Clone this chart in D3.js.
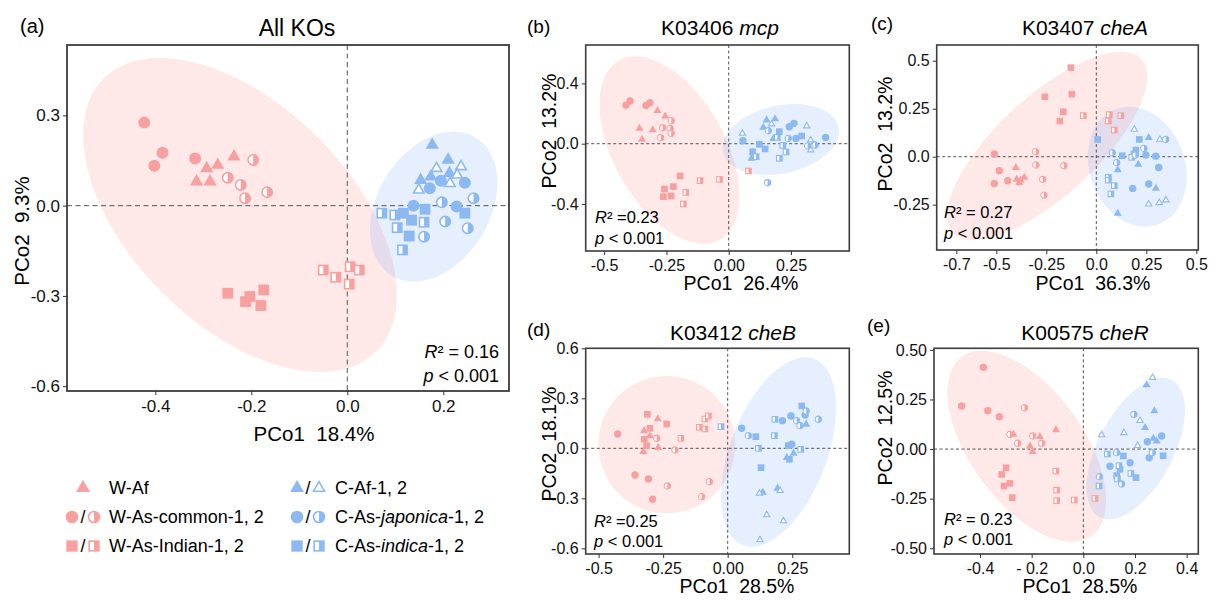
<!DOCTYPE html>
<html>
<head>
<meta charset="utf-8">
<script src="https://cdn.jsdelivr.net/npm/d3@7"></script>
<style>
body { margin: 0; background: #fff; }
svg { font-family: "Liberation Sans", Arial, sans-serif; }
</style>
</head>
<body>
<svg id="fig" width="1216" height="603"></svg>
<script>
// ---- data: [group, PCo1, PCo2] ----
const pointsA = [
	["Wc1", -0.423, 0.276], ["Wc1", -0.385, 0.176], ["Wc1", -0.402, 0.133], ["Wc1", -0.317, 0.157],
	["WAf", -0.293, 0.124], ["WAf", -0.27, 0.135], ["WAf", -0.236, 0.163], ["WAf", -0.314, 0.08], ["WAf", -0.286, 0.08],
	["Wc2", -0.196, 0.152], ["Wc2", -0.249, 0.093], ["Wc2", -0.222, 0.069], ["Wc2", -0.213, 0.025], ["Wc2", -0.167, 0.045],
	["Wi1", -0.249, -0.291], ["Wi1", -0.212, -0.319], ["Wi1", -0.203, -0.302], ["Wi1", -0.18, -0.332], ["Wi1", -0.174, -0.28],
	["Wi2", -0.05, -0.214], ["Wi2", -0.024, -0.238], ["Wi2", 0.006, -0.203], ["Wi2", 0.025, -0.214], ["Wi2", 0.004, -0.261],
	["CAf1", 0.177, 0.202], ["CAf1", 0.21, 0.152], ["CAf1", 0.213, 0.108], ["CAf1", 0.153, 0.085], ["CAf1", 0.174, 0.096],
	["CAf2", 0.186, 0.124], ["CAf2", 0.237, 0.13], ["CAf2", 0.229, 0.102], ["CAf2", 0.214, 0.074], ["CAf2", 0.149, 0.052],
	["Cj1", 0.172, 0.058], ["Cj1", 0.195, 0.083], ["Cj1", 0.245, 0.076], ["Cj1", 0.138, 0.0], ["Cj1", 0.228, -0.003],
	["Cj2", 0.197, 0.011], ["Cj2", 0.263, 0.025], ["Cj2", 0.204, -0.053], ["Cj2", 0.251, -0.075], ["Cj2", 0.16, -0.103],
	["Ci1", 0.117, -0.025], ["Ci1", 0.134, -0.048], ["Ci1", 0.129, -0.101], ["Ci1", 0.162, -0.012], ["Ci1", 0.245, -0.025],
	["Ci2", 0.072, -0.025], ["Ci2", 0.099, -0.031], ["Ci2", 0.104, -0.073], ["Ci2", 0.16, -0.055], ["Ci2", 0.115, -0.147]
];
const pointsB = [
	["Wc1", -0.412, 0.256], ["Wc1", -0.396, 0.283], ["Wc1", -0.332, 0.254], ["Wc1", -0.316, 0.272],
	["WAf", -0.286, 0.219], ["WAf", -0.255, 0.183], ["WAf", -0.358, 0.102], ["WAf", -0.305, 0.091], ["WAf", -0.348, 0.029],
	["Wc2", -0.231, 0.153], ["Wc2", -0.265, 0.106], ["Wc2", -0.235, 0.102], ["Wc2", -0.231, 0.069], ["Wc2", -0.273, 0.04],
	["Wi1", -0.195, -0.214], ["Wi1", -0.258, -0.301], ["Wi1", -0.222, -0.285], ["Wi1", -0.262, -0.351], ["Wi1", -0.231, -0.347],
	["Wi2", -0.115, -0.245], ["Wi2", -0.037, -0.237], ["Wi2", -0.172, -0.323], ["Wi2", -0.182, -0.4], ["Wi2", 0.079, -0.181],
	["CAf1", 0.152, 0.157], ["CAf1", 0.186, 0.164], ["CAf1", 0.139, 0.108], ["CAf1", 0.179, 0.033], ["CAf1", 0.092, -0.097],
	["CAf2", 0.055, 0.069], ["CAf2", 0.172, 0.13], ["CAf2", 0.313, 0.117], ["CAf2", 0.329, 0.024], ["CAf2", 0.329, -0.042],
	["Cj1", 0.057, 0.02], ["Cj1", 0.243, 0.113], ["Cj1", 0.262, 0.135], ["Cj1", 0.27, 0.035], ["Cj1", 0.389, 0.042],
	["Cj2", 0.159, 0.086], ["Cj2", 0.239, 0.035], ["Cj2", 0.317, -0.015], ["Cj2", 0.346, -0.009], ["Cj2", 0.156, -0.259],
	["Ci1", 0.123, -0.004], ["Ci1", 0.146, -0.035], ["Ci1", 0.203, 0.08], ["Ci1", 0.293, 0.051], ["Ci1", 0.096, -0.053],
	["Ci2", 0.11, -0.086], ["Ci2", 0.195, 0.042], ["Ci2", 0.217, -0.011], ["Ci2", 0.23, -0.055], ["Ci2", 0.203, -0.097]
];
const pointsC = [
	["Wi1", -0.127, 0.464], ["Wi1", -0.122, 0.326], ["Wi1", -0.257, 0.312], ["Wi1", -0.165, 0.234], ["Wi1", -0.182, 0.186],
	["Wi2", -0.065, 0.214], ["Wi2", 0.065, 0.219], ["Wi2", 0.123, 0.214], ["Wi2", 0.06, 0.186], ["Wi2", 0.09, 0.139],
	["Wc1", -0.51, 0.014], ["Wc1", -0.485, -0.073], ["Wc1", -0.443, -0.125], ["Wc1", -0.51, -0.139],
	["WAf", -0.402, -0.057], ["WAf", -0.398, -0.118], ["WAf", -0.36, -0.108], ["WAf", -0.385, -0.135], ["WAf", -0.378, -0.122],
	["Wc2", -0.303, 0.026], ["Wc2", -0.302, -0.043], ["Wc2", -0.268, -0.118], ["Wc2", -0.262, -0.2], ["Wc2", -0.162, -0.047],
	["Ci1", 0.007, 0.09], ["Ci1", 0.13, 0.005], ["Ci1", 0.215, 0.09], ["Ci1", 0.198, 0.035], ["Ci1", 0.188, 0.014],
	["Ci2", 0.06, -0.108], ["Ci2", 0.06, -0.122], ["Ci2", 0.09, -0.151], ["Ci2", 0.073, -0.194], ["Ci2", 0.177, -0.003],
	["CAf1", 0.262, 0.099], ["CAf1", 0.21, -0.04], ["CAf1", 0.107, -0.069], ["CAf1", 0.298, -0.165], ["CAf1", 0.107, -0.295],
	["CAf2", 0.19, 0.142], ["CAf2", 0.318, 0.09], ["CAf2", 0.262, -0.247], ["CAf2", 0.315, -0.24], ["CAf2", 0.348, -0.226],
	["Cj1", 0.248, 0.009], ["Cj1", 0.297, 0.003], ["Cj1", 0.312, -0.056], ["Cj1", 0.182, -0.165], ["Cj1", 0.262, -0.142],
	["Cj2", 0.08, 0.021], ["Cj2", 0.238, 0.043], ["Cj2", 0.347, 0.09], ["Cj2", 0.102, -0.031], ["Cj2", 0.195, 0.009]
];
const pointsD = [
	["Wc1", -0.426, 0.086], ["Wc1", -0.359, -0.16], ["Wc1", -0.307, -0.184], ["Wc1", -0.291, -0.306],
	["Wi1", -0.311, 0.204], ["Wi1", -0.301, 0.12], ["Wi1", -0.323, 0.054], ["Wi1", -0.314, 0.016], ["Wi1", -0.236, 0.146],
	["WAf", -0.271, 0.176], ["WAf", -0.324, 0.104], ["WAf", -0.301, 0.074], ["WAf", -0.269, 0.004], ["WAf", -0.327, -0.02],
	["Wc2", -0.275, 0.06], ["Wc2", -0.204, -0.01], ["Wc2", -0.234, -0.226], ["Wc2", -0.071, -0.2], ["Wc2", -0.101, -0.29],
	["Wi2", -0.181, 0.06], ["Wi2", -0.11, 0.126], ["Wi2", -0.088, 0.116], ["Wi2", -0.088, 0.176], ["Wi2", -0.075, 0.194],
	["Ci2", -0.026, 0.13], ["Ci2", 0.119, 0.0], ["Ci2", 0.181, 0.076], ["Ci2", 0.183, 0.174], ["Ci2", 0.283, -0.006],
	["Ci1", 0.109, 0.07], ["Ci1", 0.129, -0.116], ["Ci1", 0.239, -0.066], ["Ci1", 0.287, 0.254], ["Ci1", 0.235, 0.016],
	["Cj1", 0.054, 0.12], ["Cj1", 0.212, 0.166], ["Cj1", 0.245, 0.194], ["Cj1", 0.3, 0.2], ["Cj1", 0.248, 0.024],
	["Cj2", 0.08, 0.076], ["Cj2", 0.267, 0.166], ["Cj2", 0.28, 0.136], ["Cj2", 0.304, 0.224], ["Cj2", 0.351, 0.174],
	["CAf1", 0.229, -0.056], ["CAf1", 0.255, -0.03], ["CAf1", 0.304, 0.144], ["CAf1", 0.136, -0.264], ["CAf1", 0.193, -0.24],
	["CAf2", 0.123, -0.27], ["CAf2", 0.203, -0.254], ["CAf2", 0.151, -0.4], ["CAf2", 0.216, -0.436], ["CAf2", 0.125, -0.55]
];
const pointsE = [
	["Wc1", -0.471, 0.217], ["Wc1", -0.387, 0.412], ["Wc1", -0.37, 0.193], ["Wc1", -0.325, 0.163],
	["Wc2", -0.228, 0.208], ["Wc2", -0.284, 0.074], ["Wc2", -0.254, 0.029], ["Wc2", -0.196, 0.066], ["Wc2", -0.161, 0.029],
	["WAf", -0.271, 0.074], ["WAf", -0.168, 0.062], ["WAf", -0.106, 0.096], ["WAf", -0.206, 0.015], ["WAf", -0.196, -0.013],
	["Wi1", -0.299, -0.094], ["Wi1", -0.316, -0.128], ["Wi1", -0.307, -0.186], ["Wi1", -0.284, -0.173], ["Wi1", -0.275, -0.245],
	["Wi2", -0.106, -0.111], ["Wi2", -0.103, -0.207], ["Wi2", -0.103, -0.26], ["Wi2", -0.035, -0.257], ["Wi2", 0.045, -0.249],
	["CAf2", 0.071, 0.071], ["CAf2", 0.157, 0.082], ["CAf2", 0.21, 0.017], ["CAf2", 0.219, 0.143], ["CAf2", 0.268, 0.36],
	["CAf1", 0.245, 0.323], ["CAf1", 0.275, 0.192], ["CAf1", 0.239, 0.108], ["CAf1", 0.271, 0.054], ["CAf1", 0.284, 0.04],
	["Cj1", 0.103, -0.086], ["Cj1", 0.181, -0.069], ["Cj1", 0.248, 0.037], ["Cj1", 0.255, -0.044], ["Cj1", 0.303, 0.066],
	["Cj2", 0.062, -0.139], ["Cj2", 0.129, -0.018], ["Cj2", 0.196, 0.175], ["Cj2", 0.148, -0.176], ["Cj2", 0.267, -0.018],
	["Ci1", 0.155, -0.035], ["Ci1", 0.142, -0.102], ["Ci1", 0.129, -0.134], ["Ci1", 0.204, -0.144], ["Ci1", 0.309, -0.034],
	["Ci2", 0.093, -0.025], ["Ci2", 0.138, -0.084], ["Ci2", 0.184, -0.123], ["Ci2", 0.132, -0.151], ["Ci2", 0.061, -0.186]
];

// confidence ellipses: centre + two semi-axis vectors, in PCo units
const ellipsesA = [
	{ grp: "W", cx: -0.2235, cy: -0.031, ax: 0.284, ay: -0.4535, bx: -0.162, by: -0.258 },
	{ grp: "C", cx: 0.18, cy: -0.003, ax: 0.0873, ay: 0.2296, bx: 0.1, by: -0.0967 }
];
const ellipsesB = [
	{ grp: "W", cx: -0.238, cy: -0.042, ax: 0.202, ay: -0.595, bx: -0.195, by: -0.181 },
	{ grp: "C", cx: 0.209, cy: 0.028, ax: 0.2315, ay: 0.0816, bx: 0.0284, by: -0.2205 }
];
const ellipsesC = [
	{ grp: "W", cx: -0.245, cy: 0.056, ax: 0.4705, ay: 0.452, bx: 0.1685, by: -0.19 },
	{ grp: "C", cx: 0.2045, cy: -0.052, ax: 0.1047, ay: -0.3006, bx: -0.224, by: -0.0847 }
];
const ellipsesD = [
	{ grp: "W", cx: -0.236, cy: 0.022, ax: 0.265, ay: 0, bx: 0, by: 0.412 },
	{ grp: "C", cx: 0.197, cy: -0.022, ax: 0.138, ay: 0.5585, bx: 0.175, by: -0.104 }
];
const ellipsesE = [
	{ grp: "W", cx: -0.219, cy: 0.014, ax: 0.251, ay: -0.4516, bx: -0.177, by: -0.167 },
	{ grp: "C", cx: 0.203, cy: 0.0025, ax: 0.14, ay: 0.3458, bx: 0.1286, by: -0.0885 }
];

// axis ticks and their printed labels
const ticksAx = [-0.4, -0.2, 0, 0.2], labelsAx = ["-0.4", "-0.2", "0.0", "0.2"];
const ticksAy = [-0.6, -0.3, 0, 0.3], labelsAy = ["-0.6", "-0.3", "0.0", "0.3"];
const ticksBx = [-0.5, -0.25, 0, 0.25], labelsBx = ["-0.5", "-0.25", "0.00", "0.25"];
const ticksBy = [-0.4, 0, 0.4], labelsBy = ["-0.4", "0.0", "0.4"];
const ticksCx = [-0.7, -0.5, -0.25, 0, 0.25, 0.5], labelsCx = ["-0.7", "-0.5", "-0.25", "0.0", "0.25", "0.5"];
const ticksCy = [-0.25, 0, 0.25, 0.5], labelsCy = ["-0.25", "0.0", "0.25", "0.5"];
const ticksDx = [-0.5, -0.25, 0, 0.25], labelsDx = ["-0.5", "-0.25", "0.00", "0.25"];
const ticksDy = [-0.6, -0.3, 0, 0.3, 0.6], labelsDy = ["-0.6", "-0.3", "0.0", "0.3", "0.6"];
const ticksEx = [-0.4, -0.2, 0, 0.2, 0.4], labelsEx = ["-0.4", "- 0.2", "0.0", "0.2", "0.4"];
const ticksEy = [-0.5, -0.25, 0, 0.25, 0.5], labelsEy = ["-0.50", "-0.25", "0.00", "0.25", "0.50"];

// ---- styling ----
const FONT = '"Liberation Sans", Arial, sans-serif';
const PINK = "#f8a09f", BLUE = "#8cb9f2";
const ELL_FILL = { W: "#f8766d", C: "#5c9cf6" };
const shapes = {
	WAf: ["tri", PINK], Wc1: ["circle", PINK], Wc2: ["circleHalf", PINK], Wi1: ["square", PINK], Wi2: ["squareHalf", PINK],
	CAf1: ["tri", BLUE], CAf2: ["triOpen", BLUE], Cj1: ["circle", BLUE], Cj2: ["circleHalf", BLUE],
	Ci1: ["square", BLUE], Ci2: ["squareHalf", BLUE]
};

const panels = [
	{
		id: "a", pts: pointsA, ell: ellipsesA, box: [67, 45, 509, 391], xDom: [-0.584, 0.337], yDom: [-0.616, 0.534],
		xt: ticksAx, xl: labelsAx, yt: ticksAy, yl: labelsAy, ms: 6, sw: 1.6, frameW: 1.8, dash: "5,3.5",
		tickFont: 17, letter: ["(a)", 20, 33, 20], title: ["All KOs", "", 297, 36, 23],
		xTitle: ["PCo1  18.4%", 314, 441, 20.5], yTitle: ["PCo2  9.3%", 22, 231, 20.5],
		stats: ["² = 0.16", " < 0.001", 499, 358, 382, "end", 18]
	},
	{
		id: "b", pts: pointsB, ell: ellipsesB, box: [585.7, 45, 849.3, 251], xDom: [-0.574, 0.484], yDom: [-0.712, 0.655],
		xt: ticksBx, xl: labelsBx, yt: ticksBy, yl: labelsBy, ms: 3.7, sw: 1.1, frameW: 1.6, dash: "3,2.5",
		tickFont: 16, letter: ["(b)", 527, 33, 19], title: ["K03406 ", "mcp", 720, 35, 21],
		xTitle: ["PCo1  26.4%", 741, 290, 19.5], yTitle: ["PCo2  13.2%", 549, 131, 19.5],
		stats: ["² =0.23", " < 0.001", 595, 223, 244, "start", 16.5]
	},
	{
		id: "c", pts: pointsC, ell: ellipsesC, box: [936.7, 45, 1198.3, 250], xDom: [-0.798, 0.51], yDom: [-0.486, 0.582],
		xt: ticksCx, xl: labelsCx, yt: ticksCy, yl: labelsCy, ms: 3.7, sw: 1.1, frameW: 1.6, dash: "3,2.5",
		tickFont: 16, letter: ["(c)", 871, 30, 19], title: ["K03407 ", "cheA", 1085, 35, 21],
		xTitle: ["PCo1  36.3%", 1093, 290, 19.5], yTitle: ["PCo2  13.2%", 885, 134, 19.5],
		stats: ["² = 0.27", " < 0.001", 944, 218, 239, "start", 16.5]
	},
	{
		id: "d", pts: pointsD, ell: ellipsesD, box: [585.7, 348.3, 849.3, 554], xDom: [-0.55, 0.471], yDom: [-0.634, 0.6],
		xt: ticksDx, xl: labelsDx, yt: ticksDy, yl: labelsDy, ms: 3.7, sw: 1.1, frameW: 1.6, dash: "3,2.5",
		tickFont: 16, letter: ["(d)", 527, 336, 19], title: ["K03412 ", "cheB", 733, 340, 21],
		xTitle: ["PCo1  28.5%", 737, 593, 19.5], yTitle: ["PCo2  18.1%", 549, 444, 19.5],
		stats: ["² =0.25", " < 0.001", 594, 527, 547, "start", 16.5]
	},
	{
		id: "e", pts: pointsE, ell: ellipsesE, box: [934, 348.3, 1198.3, 554], xDom: [-0.578, 0.445], yDom: [-0.529, 0.508],
		xt: ticksEx, xl: labelsEx, yt: ticksEy, yl: labelsEy, ms: 3.7, sw: 1.1, frameW: 1.6, dash: "3,2.5",
		tickFont: 16, letter: ["(e)", 867, 332, 19], title: ["K00575 ", "cheR", 1085, 340, 21],
		xTitle: ["PCo1  28.5%", 1080, 593, 19.5], yTitle: ["PCo2  12.5%", 885, 428, 19.5],
		stats: ["² = 0.23", " < 0.001", 944, 525, 545, "start", 16.5]
	}
];

const svg = d3.select("#fig");
svg.append("rect").attr("width", 1216).attr("height", 603).attr("fill", "#fff");

function drawMarker(g, code, s, sw) {
	const [kind, col] = shapes[code];
	if (kind === "circle") {
		g.append("circle").attr("r", s).attr("fill", col);
	} else if (kind === "circleHalf") {
		const r = s - sw / 2;
		g.append("circle").attr("r", r).attr("fill", "#fff").attr("stroke", col).attr("stroke-width", sw);
		g.append("path").attr("d", `M0,${-r}A${r},${r} 0 0 1 0,${r}Z`).attr("fill", col);
	} else if (kind === "square") {
		const h = s * 0.9;
		g.append("rect").attr("x", -h).attr("y", -h).attr("width", 2 * h).attr("height", 2 * h).attr("fill", col);
	} else if (kind === "squareHalf") {
		const h = s * 0.9 - sw / 2;
		g.append("rect").attr("x", -h).attr("y", -h).attr("width", 2 * h).attr("height", 2 * h)
			.attr("fill", "#fff").attr("stroke", col).attr("stroke-width", sw);
		g.append("rect").attr("x", 0).attr("y", -h).attr("width", h).attr("height", 2 * h).attr("fill", col);
	} else {
		const side = kind === "tri" ? s * 2.2 : s * 2.2 - sw * 1.7;
		const hgt = side * Math.sqrt(3) / 2;
		const d = `M0,${-2 * hgt / 3}L${side / 2},${hgt / 3}L${-side / 2},${hgt / 3}Z`;
		if (kind === "tri") g.append("path").attr("d", d).attr("fill", col);
		else g.append("path").attr("d", d).attr("fill", "#fff").attr("stroke", col).attr("stroke-width", sw)
			.attr("stroke-linejoin", "miter");
	}
}

function drawPanel(p) {
	const [L, T, R, B] = p.box;
	const x = d3.scaleLinear().domain(p.xDom).range([L, R]);
	const y = d3.scaleLinear().domain(p.yDom).range([B, T]);
	const g = svg.append("g").attr("class", "panel-" + p.id);

	svg.append("clipPath").attr("id", "clip-" + p.id)
		.append("rect").attr("x", L).attr("y", T).attr("width", R - L).attr("height", B - T);
	const plot = g.append("g").attr("clip-path", `url(#clip-${p.id})`);

	const ts = d3.range(0, 2 * Math.PI, Math.PI / 90);
	const line = d3.line().curve(d3.curveLinearClosed);
	plot.selectAll("path.ell")
		.data(p.ell)
		.join("path")
		.attr("class", "ell")
		.attr("d", (e) => line(ts.map((t) => [
			x(e.cx + e.ax * Math.cos(t) + e.bx * Math.sin(t)),
			y(e.cy + e.ay * Math.cos(t) + e.by * Math.sin(t))
		])))
		.attr("fill", (e) => ELL_FILL[e.grp])
		.attr("fill-opacity", 0.16);

	plot.append("line").attr("x1", x(0)).attr("x2", x(0)).attr("y1", T).attr("y2", B)
		.attr("stroke", "#555").attr("stroke-width", 1).attr("stroke-dasharray", p.dash);
	plot.append("line").attr("x1", L).attr("x2", R).attr("y1", y(0)).attr("y2", y(0))
		.attr("stroke", "#555").attr("stroke-width", 1).attr("stroke-dasharray", p.dash);

	plot.selectAll("g.pt")
		.data(p.pts)
		.join("g")
		.attr("class", "pt")
		.attr("transform", (d) => `translate(${x(d[1])},${y(d[2])})`)
		.each(function (d) {
			drawMarker(d3.select(this), d[0], p.ms, p.sw);
		});

	g.append("rect").attr("x", L).attr("y", T).attr("width", R - L).attr("height", B - T)
		.attr("fill", "none").attr("stroke", "#3c3c3c").attr("stroke-width", p.frameW);

	const styleAxis = (a) => {
		a.select(".domain").remove();
		a.attr("font-family", FONT).attr("font-size", p.tickFont);
		a.selectAll("line").attr("stroke", "#333");
		a.selectAll("text").attr("fill", "#111");
	};
	g.append("g").attr("transform", `translate(0,${B})`)
		.call(d3.axisBottom(x).tickValues(p.xt).tickFormat((d, i) => p.xl[i]).tickSize(4).tickSizeOuter(0).tickPadding(5))
		.call(styleAxis);
	g.append("g").attr("transform", `translate(${L},0)`)
		.call(d3.axisLeft(y).tickValues(p.yt).tickFormat((d, i) => p.yl[i]).tickSize(4).tickSizeOuter(0).tickPadding(3))
		.call(styleAxis);

	// labels
	const [lt, lx, ly, lf] = p.letter;
	g.append("text").attr("x", lx).attr("y", ly).attr("font-size", lf).text(lt);

	const [t1, t2, tx, ty, tf] = p.title;
	const title = g.append("text").attr("x", tx).attr("y", ty).attr("font-size", tf).attr("text-anchor", "middle");
	title.append("tspan").text(t1);
	if (t2) title.append("tspan").attr("font-style", "italic").text(t2);

	const [xt, xx, xy, xf] = p.xTitle;
	g.append("text").attr("x", xx).attr("y", xy).attr("font-size", xf).attr("text-anchor", "middle")
		.style("white-space", "pre").text(xt);
	const [yt, yx, yy, yf] = p.yTitle;
	g.append("text").attr("transform", `translate(${yx},${yy}) rotate(-90)`).attr("font-size", yf)
		.attr("text-anchor", "middle").attr("dy", "0.36em").style("white-space", "pre").text(yt);

	const [s1, s2, sx, sy1, sy2, anchor, sf] = p.stats;
	const r2 = g.append("text").attr("x", sx).attr("y", sy1).attr("font-size", sf).attr("text-anchor", anchor);
	r2.append("tspan").attr("font-style", "italic").text("R");
	r2.append("tspan").text(s1);
	const pv = g.append("text").attr("x", sx).attr("y", sy2).attr("font-size", sf).attr("text-anchor", anchor);
	pv.append("tspan").attr("font-style", "italic").text("p");
	pv.append("tspan").text(s2);
}

panels.forEach(drawPanel);

// ---- legend ----
const legendRows = [
	{ w: ["WAf"], wText: [["W-Af", false]], c: ["CAf1", "CAf2"], cText: [["C-Af-1, 2", false]] },
	{ w: ["Wc1", "Wc2"], wText: [["W-As-common-1, 2", false]], c: ["Cj1", "Cj2"], cText: [["C-As-", false], ["japonica", true], ["-1, 2", false]] },
	{ w: ["Wi1", "Wi2"], wText: [["W-As-Indian-1, 2", false]], c: ["Ci1", "Ci2"], cText: [["C-As-", false], ["indica", true], ["-1, 2", false]] }
];
const legY = d3.scalePoint().domain(d3.range(legendRows.length)).range([488, 546]);
const leg = svg.append("g").attr("class", "legend").attr("font-size", 18);

function legendItem(codes, parts, x0, textX, yy) {
	if (codes.length === 1) {
		const m = leg.append("g").attr("transform", `translate(${x0 + 11},${yy})`);
		drawMarker(m, codes[0], 6.3, 1.6);
	} else {
		const m1 = leg.append("g").attr("transform", `translate(${x0},${yy})`);
		drawMarker(m1, codes[0], 6.3, 1.6);
		leg.append("text").attr("x", x0 + 11).attr("y", yy).attr("dy", "0.36em").attr("text-anchor", "middle").text("/");
		const m2 = leg.append("g").attr("transform", `translate(${x0 + 22},${yy})`);
		drawMarker(m2, codes[1], 6.3, 1.6);
	}
	const t = leg.append("text").attr("x", textX).attr("y", yy).attr("dy", "0.36em");
	parts.forEach(([s, it]) => {
		const sp = t.append("tspan").text(s);
		if (it) sp.attr("font-style", "italic");
	});
}

legendRows.forEach((row, i) => {
	const yy = legY(i);
	legendItem(row.w, row.wText, 72, 109, yy);
	legendItem(row.c, row.cText, 297, 335, yy);
});
</script>
</body>
</html>
